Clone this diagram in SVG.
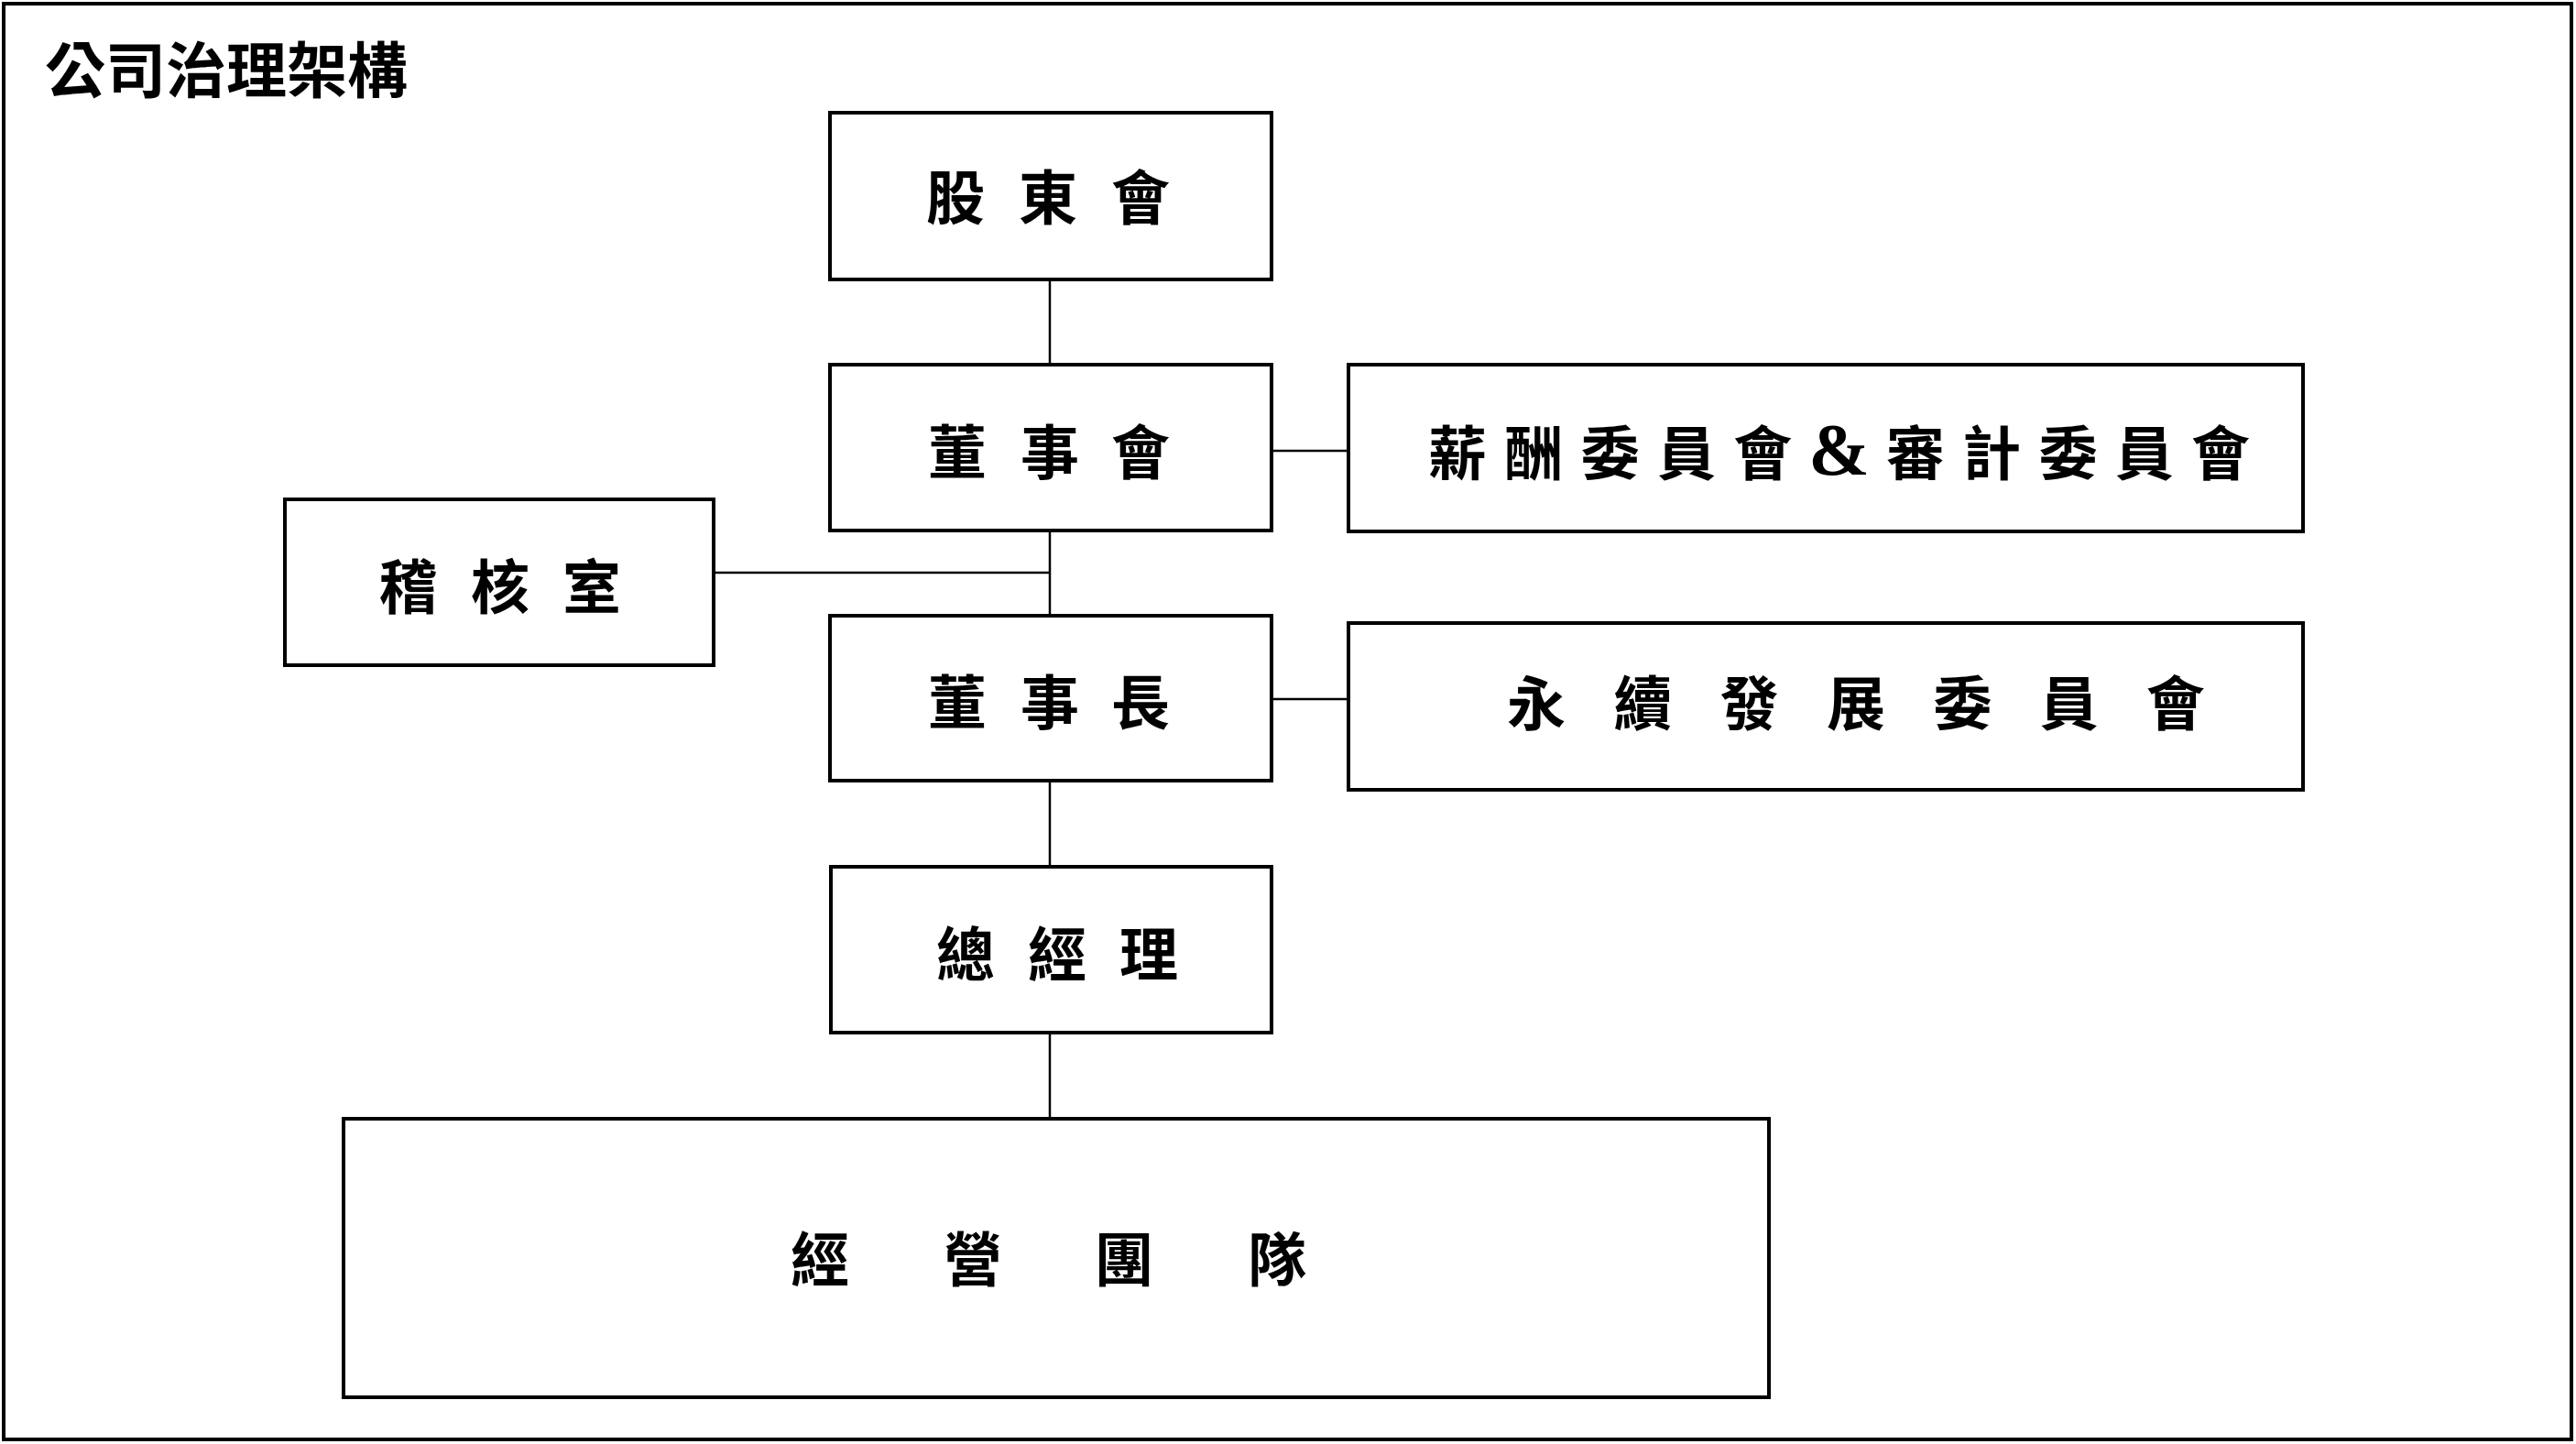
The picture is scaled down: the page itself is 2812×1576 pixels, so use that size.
<svg xmlns="http://www.w3.org/2000/svg" width="2812" height="1576" viewBox="0 0 2812 1576">
<style>
.box{fill:#fff;stroke:#000;stroke-width:4}
.ln{stroke:#000;stroke-width:2.5;fill:none}
.t{font-family:"Liberation Serif","Noto Sans CJK TC","Noto Sans CJK SC",serif;font-size:64px;font-weight:700;fill:#000;text-anchor:middle}
.amp{font-size:80px}
.title{font-family:"Noto Sans CJK TC","Noto Sans CJK SC",sans-serif;font-size:66px;font-weight:700;fill:#000}
</style>
<rect x="0" y="0" width="2812" height="1576" fill="#fff"/>
<rect x="4" y="4" width="2803" height="1567" fill="none" stroke="#000" stroke-width="4"/>
<text class="title" x="49" y="101">公司治理架構</text>
<g id="connectors">
<line class="ln" x1="1146" y1="305" x2="1146" y2="398"/>
<line class="ln" x1="1146" y1="579" x2="1146" y2="672"/>
<line class="ln" x1="779" y1="625" x2="1146" y2="625"/>
<line class="ln" x1="1388" y1="492" x2="1472" y2="492"/>
<line class="ln" x1="1388" y1="763" x2="1472" y2="763"/>
<line class="ln" x1="1146" y1="852" x2="1146" y2="946"/>
<line class="ln" x1="1146" y1="1127" x2="1146" y2="1221"/>
</g>
<g id="shareholders">
<rect class="box" x="906" y="123" width="482" height="182"/>
<text class="t" x="1043 1144 1245" y="239">股東會</text>
</g>
<g id="board">
<rect class="box" x="906" y="398" width="482" height="181"/>
<text class="t" x="1045 1146 1245" y="517">董事會</text>
</g>
<g id="audit">
<rect class="box" x="311" y="545" width="468" height="181"/>
<text class="t" x="446 546 646" y="664">稽核室</text>
</g>
<g id="committees">
<rect class="box" x="1472" y="398" width="1042" height="182"/>
<text class="t" x="1591 1674.3 1757.6 1840.9 1924.2 2007.5 2090.8 2174.1 2257.4 2340.7 2424" y="518">薪酬委員會<tspan class="amp">&amp;</tspan>審計委員會</text>
</g>
<g id="chairman">
<rect class="box" x="906" y="672" width="482" height="180"/>
<text class="t" x="1045 1146 1245" y="790">董事長</text>
</g>
<g id="sustainability">
<rect class="box" x="1472" y="680" width="1042" height="182"/>
<text class="t" x="1677 1793.3 1909.6 2025.9 2142.2 2258.5 2374.8" y="791">永續發展委員會</text>
</g>
<g id="gm">
<rect class="box" x="907" y="946" width="481" height="181"/>
<text class="t" x="1054 1154 1254" y="1065">總經理</text>
</g>
<g id="team">
<rect class="box" x="375" y="1221" width="1556" height="304"/>
<text class="t" x="895 1062 1227 1394" y="1398">經營團隊</text>
</g>
</svg>
